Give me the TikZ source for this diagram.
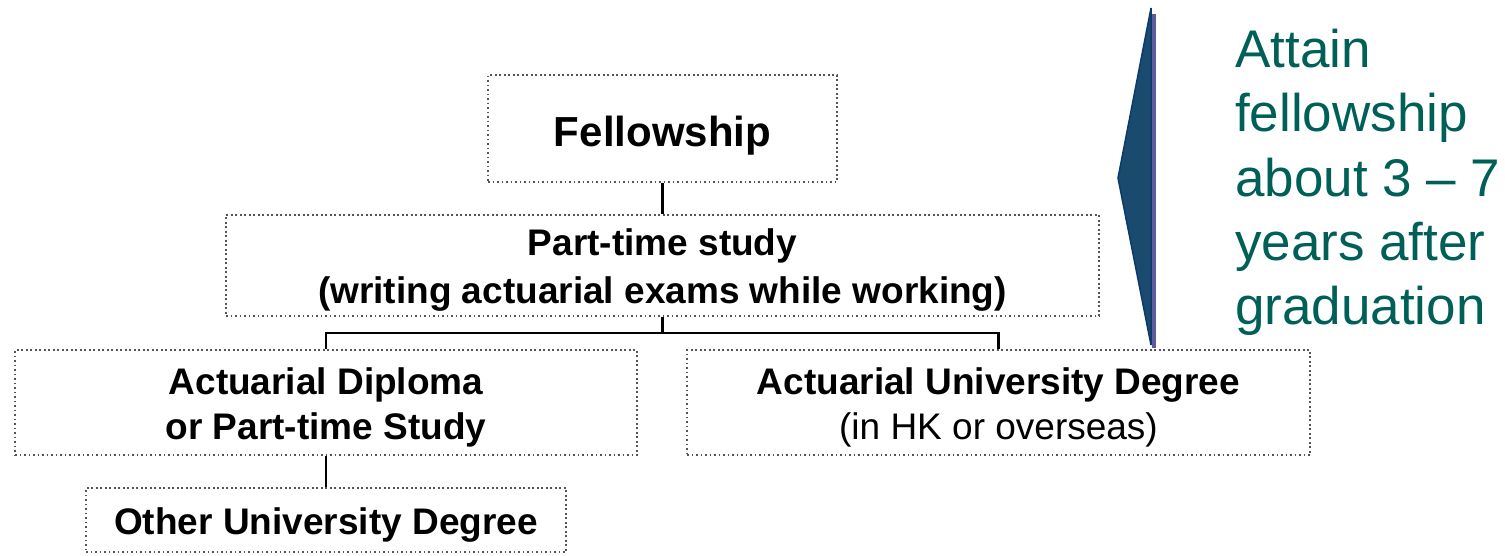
\documentclass[tikz,border=0pt]{standalone}
\usepackage{fontspec}
\setmainfont{Liberation Sans}
\definecolor{teal1}{HTML}{006058}
\definecolor{arrfill}{HTML}{1A4A6E}
\definecolor{arrline}{HTML}{0B3B6B}
\definecolor{strip}{HTML}{5C5E9C}
\definecolor{dotgray}{HTML}{555555}
\tikzset{
  box/.style={draw=dotgray, line width=1.6pt, dash pattern=on 1.6pt off 2.9pt, inner sep=0pt},
  lbl/.style={inner sep=0pt, align=center, font=\fontsize{37}{45}\selectfont\bfseries},
  conn/.style={draw=black, line width=2.5pt},
}
\begin{document}
\begin{tikzpicture}[x=1pt,y=-1pt]
\useasboundingbox (0,0) rectangle (1505,555);
\node[box, minimum width=349pt, minimum height=107pt] (fel) at (662.5,128.5) {};
\node[lbl, font=\fontsize{42}{48}\selectfont\bfseries] (felt) at ([yshift=-7pt]fel.center) {Fellowship};
\node[box, minimum width=873pt, minimum height=101pt] (pt) at (662.5,265.5) {};
\node[lbl, font=\fontsize{37}{48}\selectfont\bfseries] (ptt) at ([yshift=-5pt]pt.center) {Part-time study\\(writing actuarial exams while working)};
\node[box, minimum width=622pt, minimum height=105pt] (dip) at (326,402.5) {};
\node[lbl] (dipt) at ([yshift=-5pt]dip.center) {Actuarial Diploma\\or Part-time Study};
\node[box, minimum width=623pt, minimum height=105pt] (uni) at (998.5,402.5) {};
\node[lbl, font=\fontsize{37}{45}\selectfont] (unit) at ([yshift=-5pt]uni.center) {\bfseries Actuarial University Degree\\(in HK or overseas)};
\node[box, minimum width=480pt, minimum height=64pt] (oth) at (326,520) {};
\node[lbl] (otht) at ([yshift=-5pt]oth.center) {Other University Degree};
\coordinate (j) at (662.5,333);
\draw[conn] (fel.south) -- (pt.north);
\draw[conn] (pt.south) -- (j);
\draw[conn] (dip.north) |- (j) -| (uni.north);
\draw[conn] (dip.south) -- (oth.north);
\fill[strip] (1152,14) rectangle (1156,348);
\draw[arrline, fill=arrfill, line width=1.5pt, line join=miter] (1151,8) -- (1118,178) -- (1151,345) -- cycle;
\node[anchor=north west, align=left, inner sep=0pt, text=teal1, font=\fontsize{53}{64.3}\selectfont] (txt) at (1235,29) {Attain\\fellowship\\about 3 – 7\\years after\\graduation};
\end{tikzpicture}
\end{document}
